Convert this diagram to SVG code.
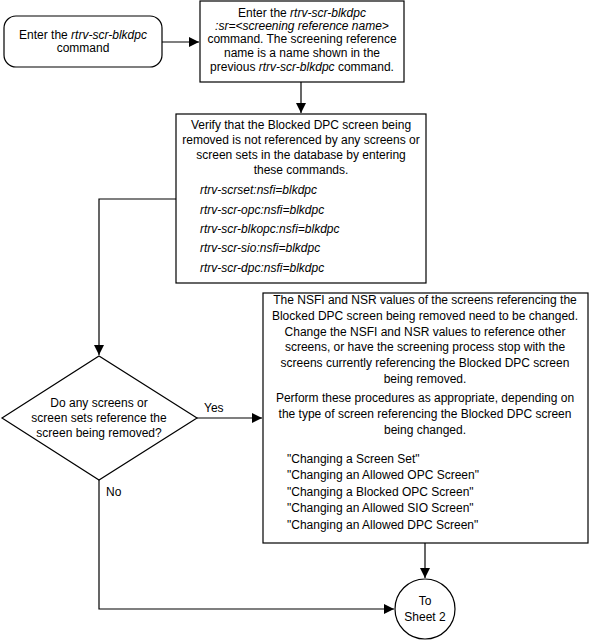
<svg xmlns="http://www.w3.org/2000/svg" width="589" height="641" viewBox="0 0 589 641">
<defs>
<marker id="arr" viewBox="0 0 10 10" refX="10" refY="5" markerWidth="10" markerHeight="10" markerUnits="userSpaceOnUse" orient="auto">
<path d="M0,0 L10,5 L0,10 z" fill="#000"/>
</marker>
<style>
.box{fill:#fff;stroke:#000;stroke-width:1.2}
.t{font-family:"Liberation Sans",Arial,sans-serif;font-size:12px;fill:#000}
.c{text-anchor:middle}
.i{font-style:italic}
.ln{fill:none;stroke:#000;stroke-width:1.2}
</style>
</defs>
<rect width="589" height="641" fill="#fff"/>
<g id="connectors">
<path class="ln" d="M162,42 L199,42" marker-end="url(#arr)"/>
<path class="ln" d="M301,82 L301,113" marker-end="url(#arr)"/>
<path class="ln" d="M176,199 L99,199 L99,355" marker-end="url(#arr)"/>
<path class="ln" d="M197,418 L262,418" marker-end="url(#arr)"/>
<path class="ln" d="M99,480 L99,609 L394,609" marker-end="url(#arr)"/>
<path class="ln" d="M425,543 L425,578" marker-end="url(#arr)"/>
<text class="t" x="204" y="412">Yes</text>
<text class="t" x="106" y="496">No</text>
</g>
<g id="n1">
<rect class="box" x="4" y="16" width="158" height="51" rx="12"/>
<text class="t c" x="83" y="39">Enter the <tspan class="i">rtrv-scr-blkdpc</tspan></text>
<text class="t c" x="83" y="52">command</text>
</g>
<g id="n2">
<rect class="box" x="200" y="1" width="204" height="81"/>
<text class="t c" x="302" y="17">Enter the <tspan class="i">rtrv-scr-blkdpc</tspan></text>
<text class="t c i" x="302" y="30">:sr=&lt;screening reference name&gt;</text>
<text class="t c" x="302" y="43">command. The screening reference</text>
<text class="t c" x="302" y="57">name is a name shown in the</text>
<text class="t c" x="302" y="71">previous <tspan class="i">rtrv-scr-blkdpc</tspan> command.</text>
</g>
<g id="n3">
<rect class="box" x="176" y="114" width="250" height="169"/>
<text class="t c" x="301" y="129">Verify that the Blocked DPC screen being</text>
<text class="t c" x="301" y="144">removed is not referenced by any screens or</text>
<text class="t c" x="301" y="159">screen sets in the database by entering</text>
<text class="t c" x="301" y="174">these commands.</text>
<text class="t i" x="200" y="194">rtrv-scrset:nsfi=blkdpc</text>
<text class="t i" x="200" y="214">rtrv-scr-opc:nsfi=blkdpc</text>
<text class="t i" x="200" y="233">rtrv-scr-blkopc:nsfi=blkdpc</text>
<text class="t i" x="200" y="252">rtrv-scr-sio:nsfi=blkdpc</text>
<text class="t i" x="200" y="272">rtrv-scr-dpc:nsfi=blkdpc</text>
</g>
<g id="n4">
<path class="box" d="M2,418 L99,356 L197,418 L99,480 z"/>
<text class="t c" x="99" y="407">Do any screens or</text>
<text class="t c" x="99" y="422">screen sets reference the</text>
<text class="t c" x="99" y="437">screen being removed?</text>
</g>
<g id="n5">
<rect class="box" x="263" y="293" width="325" height="250"/>
<text class="t c" x="425" y="304">The NSFI and NSR values of the screens referencing the</text>
<text class="t c" x="425" y="320">Blocked DPC screen being removed need to be changed.</text>
<text class="t c" x="425" y="336">Change the NSFI and NSR values to reference other</text>
<text class="t c" x="425" y="351">screens, or have the screening process stop with the</text>
<text class="t c" x="425" y="367">screens currently referencing the Blocked DPC screen</text>
<text class="t c" x="425" y="383">being removed.</text>
<text class="t c" x="425" y="402">Perform these procedures as appropriate, depending on</text>
<text class="t c" x="425" y="418">the type of screen referencing the Blocked DPC screen</text>
<text class="t c" x="425" y="434">being changed.</text>
<text class="t" x="287" y="463">"Changing a Screen Set"</text>
<text class="t" x="287" y="479">"Changing an Allowed OPC Screen"</text>
<text class="t" x="287" y="496">"Changing a Blocked OPC Screen"</text>
<text class="t" x="287" y="512">"Changing an Allowed SIO Screen"</text>
<text class="t" x="287" y="529">"Changing an Allowed DPC Screen"</text>
</g>
<g id="n6">
<circle class="box" cx="425" cy="609" r="30"/>
<text class="t c" x="425" y="605">To</text>
<text class="t c" x="425" y="621">Sheet 2</text>
</g>
</svg>
